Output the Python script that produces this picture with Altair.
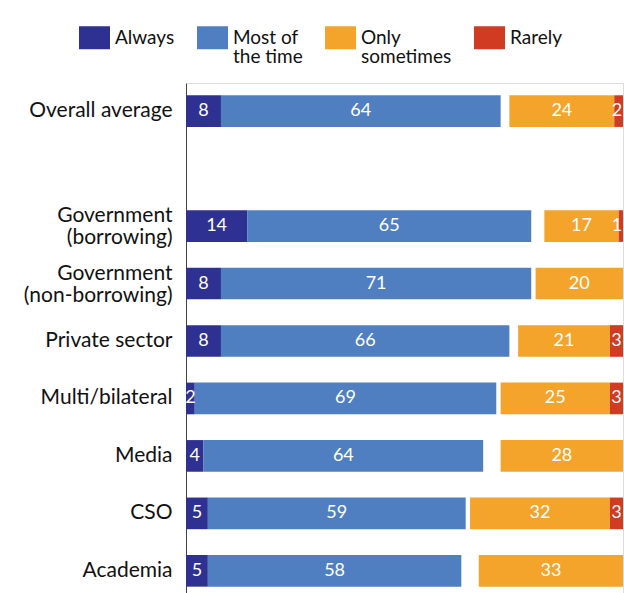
import altair as alt
import pandas as pd

# Row order on the y axis; the blank entry leaves a gap under the average
categories = ["Overall average", " ", "Government (borrowing)", "Government (non-borrowing)",
              "Private sector", "Multi/bilateral", "Media", "CSO", "Academia"]
groups = ["Overall average", "Government (borrowing)", "Government (non-borrowing)",
          "Private sector", "Multi/bilateral", "Media", "CSO", "Academia"]
always = [8, 14, 8, 8, 2, 4, 5, 5]
most_of_the_time = [64, 65, 71, 66, 69, 64, 59, 58]
only_sometimes = [24, 17, 20, 21, 25, 28, 32, 33]
rarely = [2, 1, 0, 3, 3, 0, 3, 0]

responses = ["Always", "Most of the time", "Only sometimes", "Rarely"]
colors = ["#2e3192", "#4f7fc1", "#f4a42b", "#d13b22"]

# Positive answers grow from 0, negative answers are anchored at 100
rows = []
for g, a, m, s, r in zip(groups, always, most_of_the_time, only_sometimes, rarely):
    segs = [
        ("Always", a, 0, a),
        ("Most of the time", m, a, a + m),
        ("Only sometimes", s, 100 - s - r, 100 - r),
        ("Rarely", r, 100 - r, 100),
    ]
    for resp, v, x0, x1 in segs:
        if v > 0:
            # keep labels of the thinnest end slivers inside the plot edge
            mid = min((x0 + x1) / 2, 98.6)
            rows.append({"group": g, "response": resp, "value": v,
                         "start": x0, "end": x1, "mid": mid})
df = pd.DataFrame(rows)

band = alt.Scale(domain=categories, paddingInner=0.449, paddingOuter=0.162, align=0.66)

y_enc = alt.Y(
    "group:N",
    title=None,
    scale=band,
    axis=alt.Axis(
        ticks=False, grid=False, domainColor="#444444", domainWidth=1,
        labelFont="Lato", labelFontSize=21, labelColor="#111111", labelPadding=14,
        labelLimit=300, labelLineHeight=22,
        labelExpr="split(replace(datum.label, ' (', '|('), '|')",
        # two-line labels are lifted so the block sits centred on its bar
        labelOffset={"condition": {"test": "indexof(datum.value, '(') > 0", "value": -10},
                     "value": 0},
    ),
)
x_scale = alt.Scale(domain=[0, 100], nice=False, zero=True)

# every legend label gets two lines so all entries share one height
legend = alt.Legend(
    title=None, orient="none", legendX=-107, legendY=-61, direction="horizontal",
    symbolType="M-1,-0.742H1V0.742H-1Z", symbolSize=961, symbolStrokeWidth=0,
    symbolOpacity=1, labelFont="Lato", labelFontSize=19, labelColor="#111111",
    labelOffset=5, columnPadding=22, labelBaseline="middle", padding=0, labelLimit=200,
    labelExpr="datum.label == 'Most of the time' ? ['Most of', 'the time'] : "
              "datum.label == 'Only sometimes' ? ['Only', 'sometimes'] : [datum.label, '']",
)

bars = alt.Chart(df).mark_bar().encode(
    y=y_enc,
    x=alt.X("start:Q", scale=x_scale, axis=None),
    x2="end:Q",
    color=alt.Color("response:N", scale=alt.Scale(domain=responses, range=colors), legend=legend),
)

labels = alt.Chart(df).mark_text(
    color="white", font="Lato", fontSize=18, baseline="middle", align="center"
).encode(
    y=alt.Y("group:N", scale=band),
    x=alt.X("mid:Q", scale=x_scale),
    text="value:Q",
)

chart = (
    alt.layer(bars, labels)
    .properties(
        width=437, height=510,
        autosize=alt.AutoSizeParams(type="none"),
        padding={"left": 186, "top": 83, "right": 1, "bottom": 0},
    )
    .configure_view(stroke=None)
    .configure(style={"guide-label": {"lineHeight": 19}})
)

chart.save("out.html", embed_options={"renderer": "svg", "actions": False})
